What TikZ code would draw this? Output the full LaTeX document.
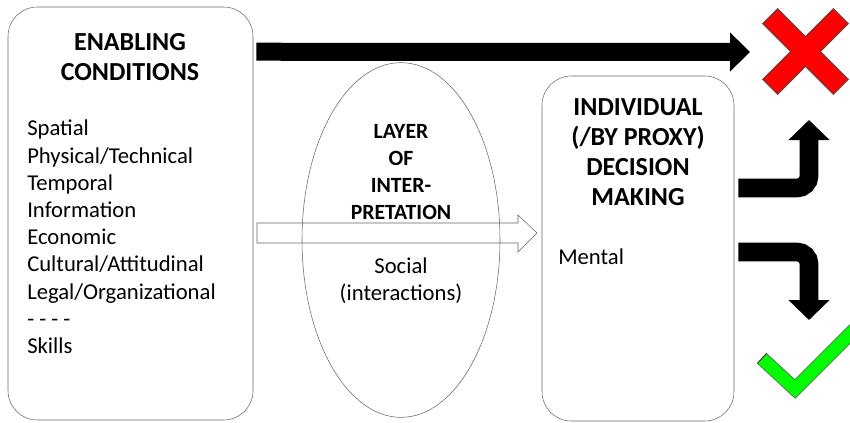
\documentclass[tikz,border=0pt]{standalone}
\usepackage{fontspec}
\setmainfont{Carlito}
\usetikzlibrary{arrows.meta}
\usetikzlibrary{shapes.geometric}
\usetikzlibrary{positioning}
\usetikzlibrary{calc}

\begin{document}
\begin{tikzpicture}[x=0.75pt,y=-0.75pt,
  box/.style={draw=black!60,rounded corners=22pt,inner sep=0pt},
  bighead/.style={font=\fontsize{19.5}{22.5}\selectfont\bfseries,align=center,inner sep=0pt},
  smallhead/.style={font=\fontsize{16.3}{20.25}\selectfont\bfseries,align=center,inner sep=0pt},
  body/.style={font=\fontsize{17}{20.4}\selectfont,align=left,inner sep=0pt},
  bigarrow/.style={line width=14pt,-{Triangle[width=30pt,length=15pt]}}]
  \useasboundingbox (0,0) rectangle (850,422);

  % hollow arrow, under the ellipse
  \coordinate (ha) at (257,233);
  \coordinate (hb) at (537,233);
  \draw[black!60] (ha) ++(0,-10) -- ++(261,0) -- ++(0,-8) -- (hb) -- ++(-19,19) -- ++(0,-9) -- ++(-261,0) -- cycle;

  \node[box,minimum width=183.75pt,minimum height=309.75pt] (cond) at (130.5,213.5) {};
  \node[bighead] (condtitle) at (130,57) {ENABLING\\CONDITIONS};
  \node[body,anchor=west] (condlist) at (27,237) {Spatial\\Physical/Technical\\Temporal\\Information\\Economic\\Cultural/Attitudinal\\Legal/Organizational\\- - - -\\Skills};

  \node[ellipse,draw=black!60,inner sep=0pt,minimum width=148.5pt,minimum height=266pt] (layer) at (401,240) {};
  \node[smallhead] (layertitle) at (401,172) {LAYER\\OF\\INTER-\\PRETATION};
  \node[body,align=center] (social) at (401,281) {Social\\(interactions)};

  \node[box,minimum width=144pt,minimum height=258.75pt] (dec) at (638,248.5) {};
  \node[bighead] (dectitle) at (638,152) {INDIVIDUAL\\(/BY PROXY)\\DECISION\\MAKING};
  \node[body,anchor=west] (mental) at (558,257) {Mental};

  \coordinate (cross) at (805.5,51.5);
  \coordinate (upend) at (809,120);
  \coordinate (downend) at (809,320);
  \coordinate (tick) at (795,389);

  \draw[bigarrow,line width=13.5pt,-{Triangle[width=28.5pt,length=15pt]}] ($(cond.north east)+(3,45)$) -- ($(cross)+(-55.5,0.5)$);
  \draw[bigarrow,rounded corners=9pt] ($(dec.east)+(4,-60.5)$) -| (upend);
  \draw[bigarrow,rounded corners=9pt] ($(dec.east)+(4,3.5)$) -| (downend);

  % red cross
  \foreach \a in {45,135} \draw[black!70,line width=16.5pt] ($(cross)+(\a:50.5)$) -- ($(cross)+(\a+180:50.5)$);
  \foreach \a in {45,135} \draw[red,line width=15pt] ($(cross)+(\a:49.5)$) -- ($(cross)+(\a+180:49.5)$);

  % green tick
  \begin{scope}
    \clip (0,0) rectangle (850,422);
    \draw[black!70,line width=10.5pt,miter limit=10] ($(tick)+(-33.5,-31)$) -- (tick) -- ++(70,-70);
    \draw[green,line width=9.5pt,miter limit=10] ($(tick)+(-32.5,-30)$) -- (tick) -- ++(70,-70);
  \end{scope}
\end{tikzpicture}
\end{document}
